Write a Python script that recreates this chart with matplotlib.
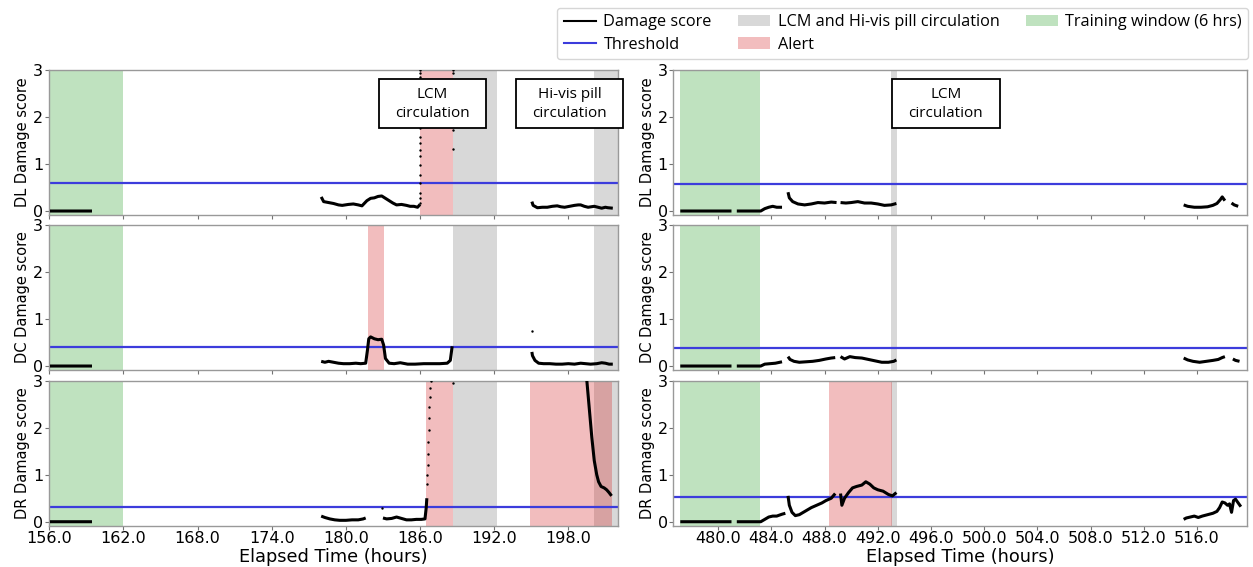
import matplotlib
matplotlib.use("Agg")
import matplotlib.pyplot as plt
import numpy as np
from matplotlib.lines import Line2D
from matplotlib.patches import Patch, Rectangle

nan = np.nan

# ---- damage score traces (hours, score); nan = gap in the record ----
DL_L_X = [156.05, 159.45, nan,
          178.0, 178.2, 178.6, 179.0, 179.4, 179.7, 180.2, 180.6, 181.0, 181.3,
          181.7, 182.0, 182.3, 182.6, 182.9, 183.2, 183.5, 183.8, 184.1, 184.5,
          184.9, 185.2, 185.5, 185.8, 186.0, nan,
          195.05, 195.15, 195.5, 195.9, 196.3, 196.7, 197.1, 197.4, 197.7, 198.1,
          198.5, 198.8, 199.0, 199.3, 199.6, 200.1, 200.4, 200.7, 201.0, 201.2, 201.6]
DL_L_Y = [0, 0, nan,
          0.3, 0.2, 0.18, 0.16, 0.13, 0.12, 0.14, 0.15, 0.13, 0.11,
          0.22, 0.27, 0.28, 0.31, 0.32, 0.27, 0.22, 0.17, 0.13, 0.14,
          0.12, 0.10, 0.10, 0.08, 0.14, nan,
          0.2, 0.12, 0.07, 0.08, 0.08, 0.1, 0.11, 0.09, 0.08, 0.1,
          0.12, 0.13, 0.13, 0.1, 0.08, 0.1, 0.08, 0.06, 0.08, 0.07, 0.06]

DC_L_X = [156.05, 159.45, nan,
          178.0, 178.3, 178.6, 179.0, 179.4, 179.8, 180.3, 180.8, 181.2, 181.6,
          181.75, 181.85, 182.0, 182.3, 182.6, 182.9, 183.05, 183.2, 183.5, 183.9,
          184.4, 185.0, 185.6, 186.3, 187.0, 187.6, 188.2, 188.45, 188.6, nan,
          195.05, 195.1, 195.3, 195.6, 196.0, 196.5, 197.0, 197.5, 198.0, 198.5,
          199.0, 199.4, 199.8, 200.3, 200.7, 201.0, 201.3, 201.6]
DC_L_Y = [0, 0, nan,
          0.1, 0.08, 0.1, 0.08, 0.06, 0.05, 0.05, 0.06, 0.05, 0.06,
          0.35, 0.58, 0.62, 0.58, 0.56, 0.57, 0.45, 0.16, 0.06, 0.05,
          0.07, 0.04, 0.04, 0.05, 0.05, 0.05, 0.06, 0.12, 0.42, nan,
          0.3, 0.22, 0.12, 0.06, 0.05, 0.05, 0.04, 0.04, 0.05, 0.04,
          0.06, 0.05, 0.04, 0.05, 0.07, 0.06, 0.04, 0.04]

DR_L_X = [156.05, 159.45, nan,
          178.0, 178.3, 178.7, 179.1, 179.5, 180.0, 180.5, 181.0, 181.4, 181.6, nan,
          183.0, 183.3, 183.7, 184.1, 184.5, 184.9, 185.3, 185.7, 186.1, 186.4,
          186.5, 186.55, nan,
          199.5, 199.7, 199.9, 200.1, 200.3, 200.45, 200.65, 200.9, 201.1, 201.3, 201.5]
DR_L_Y = [0, 0, nan,
          0.12, 0.09, 0.06, 0.04, 0.03, 0.03, 0.04, 0.04, 0.06, 0.08, nan,
          0.08, 0.06, 0.07, 0.1, 0.07, 0.04, 0.04, 0.05, 0.05, 0.06,
          0.3, 0.5, nan,
          3.0, 2.4, 1.8, 1.3, 1.0, 0.85, 0.75, 0.72, 0.68, 0.62, 0.55]

DL_R_X = [477.15, 481.0, nan,
          481.4, 483.2, 483.5, 483.8, 484.1, 484.4, 484.8, nan,
          485.25, 485.35, 485.6, 486.0, 486.5, 487.0, 487.5, 488.0, 488.5, 488.9, nan,
          489.2, 489.6, 490.0, 490.5, 491.0, 491.5, 492.0, 492.5, 493.0, 493.4, nan,
          515.0, 515.3, 515.8, 516.3, 516.8, 517.2, 517.5, 517.75, 517.9, 518.1, nan,
          518.6, 518.8, 519.1]
DL_R_Y = [0, 0, nan,
          0, 0, 0.05, 0.08, 0.1, 0.08, 0.08, nan,
          0.4, 0.28, 0.2, 0.15, 0.13, 0.15, 0.18, 0.17, 0.19, 0.18, nan,
          0.18, 0.17, 0.18, 0.2, 0.17, 0.17, 0.15, 0.12, 0.13, 0.16, nan,
          0.13, 0.1, 0.08, 0.08, 0.09, 0.12, 0.16, 0.24, 0.3, 0.22, nan,
          0.17, 0.13, 0.1]

DC_R_X = [477.15, 481.0, nan,
          481.4, 483.2, 483.5, 483.9, 484.3, 484.8, nan,
          485.25, 485.4, 485.7, 486.1, 486.6, 487.1, 487.6, 488.1, 488.5, 488.8, nan,
          489.2, 489.5, 489.9, 490.3, 490.8, 491.3, 491.8, 492.3, 492.8, 493.2, 493.4, nan,
          515.0, 515.3, 515.7, 516.2, 516.7, 517.2, 517.6, 517.9, 518.1, nan,
          518.7, 518.9, 519.2]
DC_R_Y = [0, 0, nan,
          0, 0, 0.04, 0.05, 0.06, 0.09, nan,
          0.2, 0.14, 0.1, 0.08, 0.09, 0.1, 0.12, 0.15, 0.17, 0.18, nan,
          0.2, 0.15, 0.2, 0.18, 0.17, 0.14, 0.11, 0.08, 0.08, 0.1, 0.13, nan,
          0.17, 0.13, 0.1, 0.08, 0.1, 0.12, 0.14, 0.18, 0.2, nan,
          0.15, 0.12, 0.1]

DR_R_X = [477.15, 481.0, nan,
          481.4, 483.2, 483.5, 483.8, 484.1, 484.4, 484.8, 485.05, nan,
          485.25, 485.35, 485.55, 485.8, 486.1, 486.4, 486.7, 487.0, 487.4, 487.8,
          488.1, 488.5, 488.8, nan,
          489.2, 489.3, 489.5, 489.8, 490.1, 490.4, 490.8, 491.1, 491.4, 491.7,
          492.0, 492.4, 492.8, 493.1, 493.4, nan,
          515.0, 515.2, 515.5, 515.8, 516.1, 516.4, 516.8, 517.2, 517.5, 517.7,
          517.9, 518.1, 518.3, 518.45, 518.6, 518.75, 518.9, 519.1, 519.3]
DR_R_Y = [0, 0, nan,
          0, 0, 0.05, 0.1, 0.12, 0.12, 0.16, 0.18, nan,
          0.55, 0.35, 0.2, 0.13, 0.15, 0.2, 0.25, 0.3, 0.35, 0.4,
          0.45, 0.5, 0.6, nan,
          0.6, 0.35, 0.5, 0.62, 0.72, 0.75, 0.78, 0.85, 0.8, 0.72,
          0.68, 0.65, 0.58, 0.55, 0.62, nan,
          0.05, 0.08, 0.1, 0.12, 0.09, 0.12, 0.15, 0.18, 0.22, 0.3,
          0.42, 0.4, 0.35, 0.38, 0.2, 0.45, 0.48, 0.4, 0.32]

# isolated scattered points (off-scale jumps)
DL_L_DOT_X = [186.0] * 15 + [188.7] * 4
DL_L_DOT_Y = [3.0, 2.93, 2.85, 2.0, 1.76, 1.58, 1.44, 1.30, 1.16, 0.98, 0.77, 0.59,
              0.38, 0.27, 0.16, 3.0, 2.93, 1.72, 1.33]
DC_L_DOT_X = [195.05]
DC_L_DOT_Y = [0.75]
DR_L_DOT_X = [182.9, 186.58, 186.6, 186.62, 186.64, 186.67, 186.7, 186.73, 186.76,
              186.8, 186.84, 186.88, 188.7]
DR_L_DOT_Y = [0.3, 0.8, 1.0, 1.2, 1.45, 1.7, 1.95, 2.2, 2.45, 2.65, 2.85, 3.0, 2.95]

# thresholds
THR = {"DL_L": 0.59, "DC_L": 0.40, "DR_L": 0.32,
       "DL_R": 0.57, "DC_R": 0.38, "DR_R": 0.52}

# shaded windows (start, end) in hours
TRAIN_L = (156.0, 162.0)
TRAIN_R = (477.15, 483.15)
CIRC_L = [(188.7, 192.25), (200.05, 202.1)]
CIRC_R = [(493.0, 493.45)]
ALERT_DL_L = [(186.0, 188.7)]
ALERT_DC_L = [(181.75, 183.05)]
ALERT_DR_L = [(186.5, 188.7), (194.9, 201.5)]
ALERT_DR_R = [(488.35, 493.1)]

XT_L = [156.0, 162.0, 168.0, 174.0, 180.0, 186.0, 192.0, 198.0]
XT_R = [480.0, 484.0, 488.0, 492.0, 496.0, 500.0, 504.0, 508.0, 512.0, 516.0]
XLIM_L = (155.95, 202.05)
XLIM_R = (476.62, 519.78)

C_TRAIN = "tab:green"
C_ALERT = "tab:red"
C_CIRC = "tab:gray"
C_THR = "#3c3cdc"
BOX_FONT = ["Open Sans", "DejaVu Sans"]

fig = plt.figure(figsize=(12.53, 5.67), dpi=100)

col_x = [(0.0389, 0.4546), (0.5373, 0.4581)]
row_y = [0.6208, 0.3474, 0.0728]
row_h = 0.2557

panels = [
    # row, col, label, x, y, thr, alerts, dots
    (0, 0, "DL", DL_L_X, DL_L_Y, THR["DL_L"], ALERT_DL_L, (DL_L_DOT_X, DL_L_DOT_Y)),
    (1, 0, "DC", DC_L_X, DC_L_Y, THR["DC_L"], ALERT_DC_L, (DC_L_DOT_X, DC_L_DOT_Y)),
    (2, 0, "DR", DR_L_X, DR_L_Y, THR["DR_L"], ALERT_DR_L, (DR_L_DOT_X, DR_L_DOT_Y)),
    (0, 1, "DL", DL_R_X, DL_R_Y, THR["DL_R"], [], None),
    (1, 1, "DC", DC_R_X, DC_R_Y, THR["DC_R"], [], None),
    (2, 1, "DR", DR_R_X, DR_R_Y, THR["DR_R"], ALERT_DR_R, None),
]

axes = {}
for row, col, lab, xs, ys, thr, alerts, dots in panels:
    x0, w = col_x[col]
    ax = fig.add_axes([x0, row_y[row], w, row_h])
    axes[(row, col)] = ax
    train = TRAIN_L if col == 0 else TRAIN_R
    circ = CIRC_L if col == 0 else CIRC_R
    ax.axvspan(*train, color=C_TRAIN, alpha=0.3, lw=0, zorder=1)
    for a, b in circ:
        ax.axvspan(a, b, color=C_CIRC, alpha=0.3, lw=0, zorder=1)
    for a, b in alerts:
        ax.axvspan(a, b, color=C_ALERT, alpha=0.3, lw=0, zorder=1)
    ax.axhline(thr, color=C_THR, lw=1.6, zorder=2)
    ax.plot(xs, ys, color="black", lw=2.2, solid_capstyle="butt", zorder=3)
    if dots is not None:
        ax.scatter(dots[0], dots[1], s=3, color="black", zorder=3, linewidths=0)

    ax.set_xlim(*(XLIM_L if col == 0 else XLIM_R))
    ax.set_ylim(-0.085, 3.0)
    ax.set_yticks([0, 1, 2, 3])
    ax.set_xticks(XT_L if col == 0 else XT_R)
    if row == 2:
        ax.set_xticklabels([f"{t:.1f}" for t in (XT_L if col == 0 else XT_R)])
        ax.set_xlabel("Elapsed Time (hours)", fontsize=12.8, labelpad=1)
    else:
        ax.set_xticklabels([])
    ax.set_ylabel(f"{lab} Damage score", fontsize=10.5, labelpad=2)
    ax.tick_params(labelsize=11.5, length=3, width=0.8, color="0.45", pad=1)
    for sp in ax.spines.values():
        sp.set_color("0.6")
        sp.set_linewidth(1.0)

# annotation boxes (x0, x1, y0, y1 in data units, text)
BOXES = [
    ((0, 0), 182.68, 191.34, 1.76, 2.80, "LCM\ncirculation"),
    ((0, 0), 193.77, 202.42, 1.76, 2.80, "Hi-vis pill\ncirculation"),
    ((0, 1), 493.07, 501.16, 1.76, 2.80, "LCM\ncirculation"),
]
for key, bx0, bx1, by0, by1, txt in BOXES:
    ax = axes[key]
    ax.add_patch(Rectangle((bx0, by0), bx1 - bx0, by1 - by0, facecolor="white",
                           edgecolor="black", lw=1.3, zorder=5, clip_on=False))
    ax.text((bx0 + bx1) / 2, (by0 + by1) / 2, txt, ha="center", va="center",
            fontsize=11, family=BOX_FONT, zorder=6, linespacing=1.35, clip_on=False)

handles = [
    Line2D([], [], color="black", lw=1.5),
    Line2D([], [], color=C_THR, lw=1.5),
    Patch(facecolor=C_CIRC, alpha=0.3, lw=0),
    Patch(facecolor=C_ALERT, alpha=0.3, lw=0),
    Patch(facecolor=C_TRAIN, alpha=0.3, lw=0),
]
labels = ["Damage score", "Threshold", "LCM and Hi-vis pill circulation", "Alert",
          "Training window (6 hrs)"]
fig.legend(handles, labels, ncol=3, loc="upper right", bbox_to_anchor=(0.999, 0.992),
           prop={"family": BOX_FONT, "size": 11.7}, frameon=True, columnspacing=1.6,
           handlelength=2.0, handletextpad=0.45, borderaxespad=0.2, labelspacing=0.4)

fig.savefig("out.png", dpi=100)
